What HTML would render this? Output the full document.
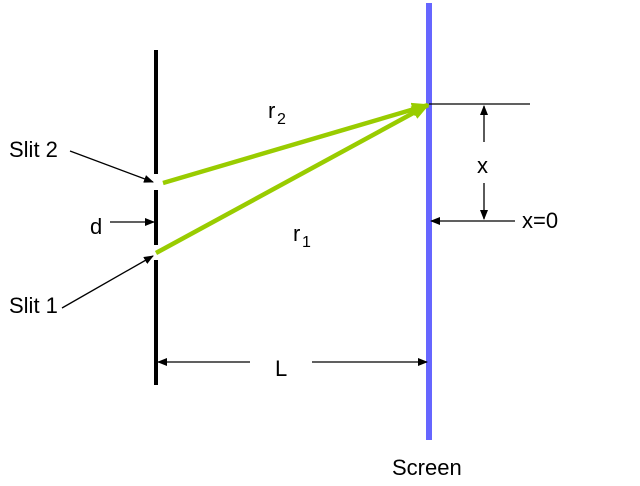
<!DOCTYPE html>
<html><head><style>
html,body{margin:0;padding:0;background:#fff;}
svg{display:block;}
text{font-family:"Liberation Sans",sans-serif;fill:#000;}
</style></head><body>
<svg width="640" height="486" viewBox="0 0 640 486" xmlns="http://www.w3.org/2000/svg">
<defs>
<marker id="a" markerWidth="10" markerHeight="8" refX="9" refY="4" orient="auto" markerUnits="userSpaceOnUse">
<path d="M0,0 L10,4 L0,8 Z" fill="#000"/></marker>
<marker id="g" markerWidth="18" markerHeight="14" refX="16" refY="7" orient="auto" markerUnits="userSpaceOnUse">
<path d="M0,0 L18,7 L0,14 Z" fill="#99cc00"/></marker>
</defs>
<g stroke="#000" stroke-width="4">
<line x1="156" y1="50" x2="156" y2="174"/>
<line x1="156" y1="190" x2="156" y2="245"/>
<line x1="156" y1="260" x2="156" y2="385"/>
</g>
<line x1="429" y1="3" x2="429" y2="440" stroke="#6666ff" stroke-width="6"/>
<line x1="163" y1="183" x2="428" y2="105" stroke="#99cc00" stroke-width="4.5" marker-end="url(#g)"/>
<line x1="156" y1="253" x2="428" y2="105" stroke="#99cc00" stroke-width="4.5" marker-end="url(#g)"/>
<g stroke="#000" stroke-width="1.3" fill="none">
<line x1="429" y1="104" x2="530" y2="104"/>
<line x1="484" y1="142" x2="484" y2="106" marker-end="url(#a)"/>
<line x1="484" y1="183" x2="484" y2="219" marker-end="url(#a)"/>
<line x1="515" y1="221" x2="431" y2="221" marker-end="url(#a)"/>
<line x1="110" y1="222" x2="154" y2="222" marker-end="url(#a)"/>
<line x1="70" y1="151" x2="153" y2="182" marker-end="url(#a)"/>
<line x1="62" y1="308" x2="153" y2="256" marker-end="url(#a)"/>
<line x1="250" y1="362" x2="158" y2="362" marker-end="url(#a)"/>
<line x1="312" y1="362" x2="427" y2="362" marker-end="url(#a)"/>
</g>
<g font-size="22">
<text x="9" y="157">Slit 2</text>
<text x="9" y="313">Slit 1</text>
<text x="90" y="234">d</text>
<text x="477" y="173">x</text>
<text x="522" y="228">x=0</text>
<text x="275" y="376">L</text>
<text x="392" y="475">Screen</text>
<text x="268" y="118">r</text><text x="277" y="124" font-size="16">2</text>
<text x="293" y="241">r</text><text x="302" y="247" font-size="16">1</text>
</g>
</svg>
</body></html>
